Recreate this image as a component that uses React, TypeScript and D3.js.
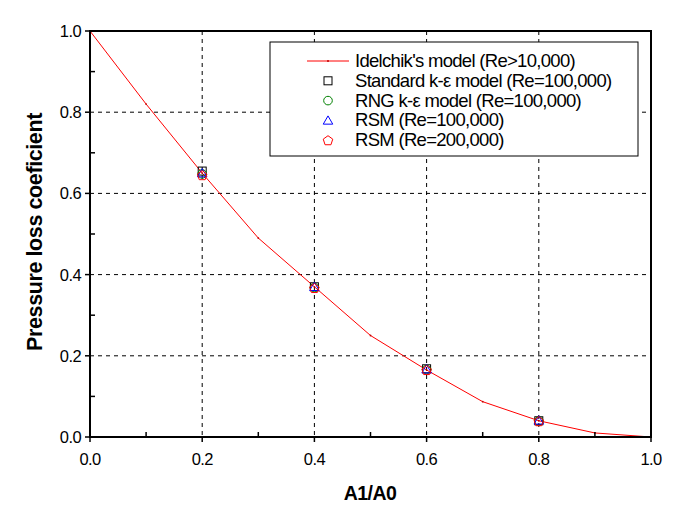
import React from "react";
import * as d3 from "d3";

const idelX = [0, 0.1, 0.2, 0.3, 0.4, 0.5, 0.6, 0.7, 0.8, 0.9, 1.0];
const idelY = [1.0, 0.82, 0.65, 0.49, 0.37, 0.25, 0.165, 0.087, 0.04, 0.01, 0.0];

const cfdX = [0.2, 0.4, 0.6, 0.8];
const stdKe = [0.655, 0.37, 0.168, 0.04];
const rngKe = [0.648, 0.368, 0.166, 0.039];
const rsm100 = [0.65, 0.37, 0.167, 0.041];
const rsm200 = [0.645, 0.367, 0.165, 0.039];

const majorTicks = [0, 0.2, 0.4, 0.6, 0.8, 1.0];
const minorTicks = [0.1, 0.3, 0.5, 0.7, 0.9];
const gridTicks = [0.2, 0.4, 0.6, 0.8];

const legendLabels = [
  "Idelchik's model (Re>10,000)",
  "Standard k-\u03b5 model (Re=100,000)",
  "RNG k-\u03b5 model (Re=100,000)",
  "RSM (Re=100,000)",
  "RSM (Re=200,000)",
];

const W = 688, H = 520;
const L = 90, R = 651, T = 31, B = 437;
const FONT = "'Liberation Sans', Arial, sans-serif";

type Shape = "square" | "circle" | "triangle" | "pentagon";

function Marker({ shape, x, y, color }: { shape: Shape; x: number; y: number; color: string }) {
  if (shape === "square") return <rect x={x - 4} y={y - 4} width={8} height={8} fill="none" stroke={color} strokeWidth={1} />;
  if (shape === "circle") return <circle cx={x} cy={y} r={4.3} fill="none" stroke={color} strokeWidth={1} />;
  const n = shape === "triangle" ? 3 : 5;
  const r = shape === "triangle" ? 5.5 : 5;
  const pts = d3.range(n).map((i) => {
    const a = -Math.PI / 2 + (i * 2 * Math.PI) / n;
    return [x + r * Math.cos(a), y + r * Math.sin(a) + (shape === "triangle" ? 1 : 0.5)];
  });
  return <polygon points={pts.map((p) => p.join(",")).join(" ")} fill="none" stroke={color} strokeWidth={1} />;
}

export default function App() {
  const xs = d3.scaleLinear().domain([0, 1]).range([L, R]);
  const ys = d3.scaleLinear().domain([0, 1]).range([B, T]);
  const line = d3.line<number>().x((_, i) => xs(idelX[i])).y((d) => ys(d));

  const series: { shape: Shape; color: string; vals: number[] }[] = [
    { shape: "square", color: "#000000", vals: stdKe },
    { shape: "circle", color: "#008000", vals: rngKe },
    { shape: "triangle", color: "#0000ff", vals: rsm100 },
    { shape: "pentagon", color: "#ff0000", vals: rsm200 },
  ];

  const legX = 270, legY = 42, legW = 368, legH = 114;
  const rowY = (i: number) => 61 + i * 19.8;

  return (
    <svg width={W} height={H} style={{ position: "absolute", left: 0, top: 0, background: "#fff" }} fontFamily={FONT}>
      <rect x={0} y={0} width={W} height={H} fill="#fff" />
      {gridTicks.map((t) => (
        <g key={"g" + t}>
          <line x1={xs(t)} x2={xs(t)} y1={T} y2={B} stroke="#000" strokeWidth={1} strokeDasharray="4,4" />
          <line x1={L} x2={R} y1={ys(t)} y2={ys(t)} stroke="#000" strokeWidth={1} strokeDasharray="4,4" />
        </g>
      ))}
      <rect x={legX} y={legY} width={legW} height={legH} fill="#fff" stroke="#000" strokeWidth={1} />
      <path d={line(idelY) || ""} fill="none" stroke="#ff0000" strokeWidth={1} />
      {idelY.map((v, i) => (
        <circle key={"d" + i} cx={xs(idelX[i])} cy={ys(v)} r={0.9} fill="#c00000" />
      ))}
      {series.map((s) =>
        s.vals.map((v, i) => <Marker key={s.shape + i} shape={s.shape} x={xs(cfdX[i])} y={ys(v)} color={s.color} />)
      )}
      <rect x={L} y={T} width={R - L} height={B - T} fill="none" stroke="#000" strokeWidth={2} />
      {majorTicks.map((t) => (
        <g key={"mt" + t}>
          <line x1={xs(t)} x2={xs(t)} y1={B} y2={B + 5} stroke="#000" strokeWidth={1.5} />
          <line x1={L - 5} x2={L} y1={ys(t)} y2={ys(t)} stroke="#000" strokeWidth={1.5} />
          <text x={xs(t)} y={465} textAnchor="middle" fontSize={16.5} letterSpacing={-0.6} fill="#000">{d3.format(".1f")(t)}</text>
          <text x={81} y={ys(t) + 6} textAnchor="end" fontSize={16.5} letterSpacing={-0.6} fill="#000">{d3.format(".1f")(t)}</text>
        </g>
      ))}
      {minorTicks.map((t) => (
        <g key={"mn" + t}>
          <line x1={xs(t)} x2={xs(t)} y1={B} y2={B - 5} stroke="#000" strokeWidth={1.5} />
          <line x1={L} x2={L + 5} y1={ys(t)} y2={ys(t)} stroke="#000" strokeWidth={1.5} />
        </g>
      ))}
      <text x={370} y={500} textAnchor="middle" fontSize={19.5} letterSpacing={-0.6} fontWeight="bold" fill="#000">A1/A0</text>
      <text transform={`translate(42,232) rotate(-90)`} textAnchor="middle" fontSize={21.5} letterSpacing={-0.4} fontWeight="bold" fill="#000">
        Pressure loss coeficient
      </text>
      <line x1={307} x2={349} y1={rowY(0)} y2={rowY(0)} stroke="#ff0000" strokeWidth={1} />
      <circle cx={328} cy={rowY(0)} r={1} fill="#c00000" />
      {series.map((s, i) => (
        <Marker key={"lm" + i} shape={s.shape} x={328} y={rowY(i + 1)} color={s.color} />
      ))}
      {legendLabels.map((lab, i) => (
        <text key={"lt" + i} x={355} y={rowY(i) + 6} fontSize={18.5} fill="#000" letterSpacing={-0.7}>{lab}</text>
      ))}
    </svg>
  );
}
